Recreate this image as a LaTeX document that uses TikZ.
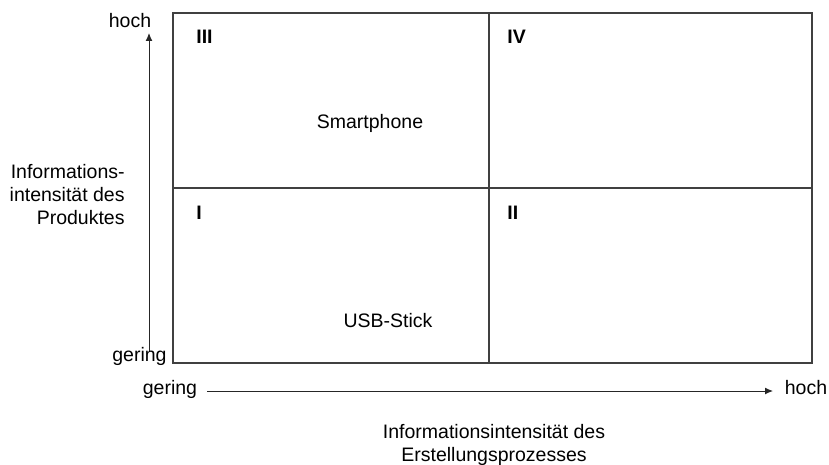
\documentclass[tikz,border=0pt]{standalone}
\usepackage{fontspec}
\setmainfont{Liberation Sans}
\usetikzlibrary{arrows.meta}

\begin{document}
\begin{tikzpicture}[x=0.5pt,y=-0.5pt,
	every node/.style={inner sep=0pt,font=\fontsize{9.75}{11.5}\selectfont},
	feld/.style={draw=black!75,line width=0.9pt},
	achse/.style={draw=black!85,line width=0.5pt,-{Latex[length=4pt,width=3.5pt]}},
	nummer/.style={anchor=base west,font=\fontsize{9.75}{11.5}\selectfont\bfseries}]
	
	\useasboundingbox (0,0) rectangle (829,465);
	
	% Matrix
	\coordinate (lo) at (173,13);
	\coordinate (ru) at (812,363);
	\draw[feld] (lo) rectangle (ru);
	\draw[feld] (489,13) -- (489,363);
	\draw[feld] (173,188) -- (812,188);
	
	\node[nummer] (q3) at (196,44) {III};
	\node[nummer] (q4) at (507,44) {IV};
	\node[nummer] (q1) at (196,219) {I};
	\node[nummer] (q2) at (507,219) {II};
	
	\node[anchor=base] (smart) at (370,128) {Smartphone};
	\node[anchor=base] (usb) at (388,327) {USB-Stick};
	
	% Achsen
	\coordinate (yfuss) at (149,352);
	\coordinate (ykopf) at (149,33);
	\coordinate (xfuss) at (207,391);
	\coordinate (xkopf) at (773,391);
	\draw[achse] (yfuss) -- (ykopf);
	\draw[achse] (xfuss) -- (xkopf);
	
	\node[anchor=base] (yhoch) at (130,28) {hoch};
	\node[anchor=base east] (ygering) at (167,361) {gering};
	\node[anchor=base] (xgering) at (170,394) {gering};
	\node[anchor=base] (xhoch) at (806,394) {hoch};
	
	\node[anchor=east,align=right] (ytitel) at (125,195) {Informations-\\intensität des\\Produktes};
	\node[anchor=north,align=center] (xtitel) at (494,424) {Informationsintensität des\\Erstellungsprozesses};
	
\end{tikzpicture}
\end{document}
